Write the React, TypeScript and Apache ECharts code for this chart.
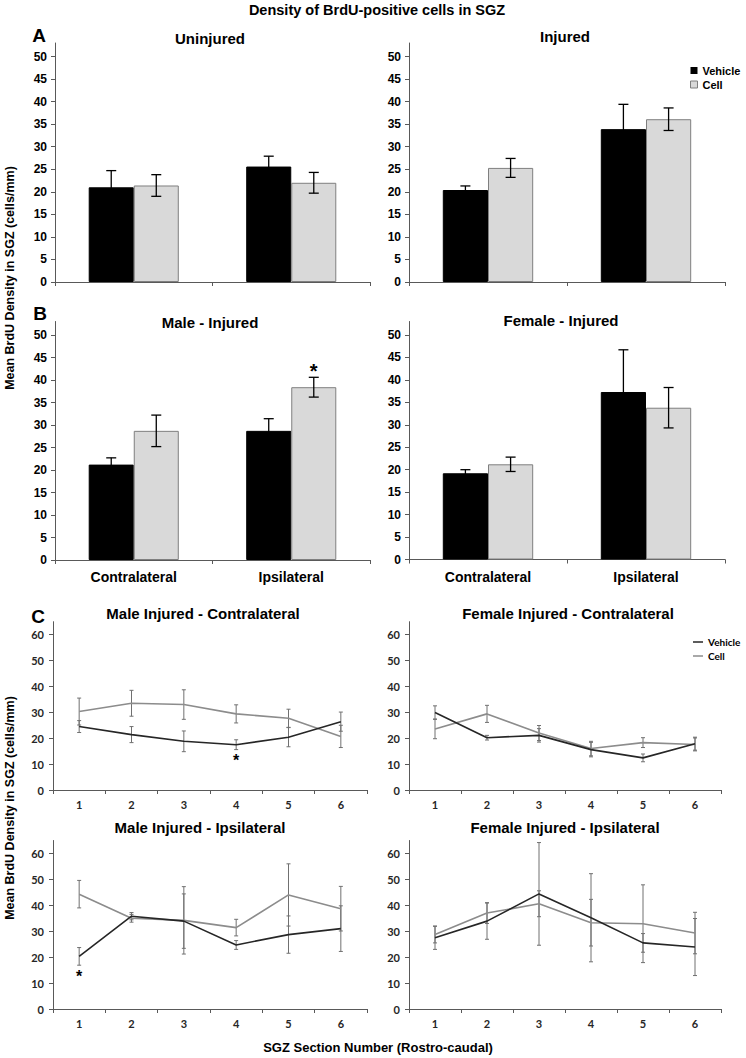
import React, { useEffect, useRef } from "react";
import * as echarts from "echarts";

// ---------- DATA ----------
const barCategories = ["Contralateral", "Ipsilateral"];
const barTickValues = [0, 5, 10, 15, 20, 25, 30, 35, 40, 45, 50];

const uninjuredVehicle = [21.0, 25.6];
const uninjuredVehicleErr = [3.7, 2.3];
const uninjuredCell = [21.4, 22.0];
const uninjuredCellErr = [2.4, 2.3];

const injuredVehicle = [20.4, 33.9];
const injuredVehicleErr = [0.9, 5.5];
const injuredCell = [25.3, 36.1];
const injuredCellErr = [2.1, 2.5];

const maleVehicle = [21.2, 28.7];
const maleVehicleErr = [1.5, 2.7];
const maleCell = [28.7, 38.4];
const maleCellErr = [3.5, 2.2];
const maleCellSig = [0, 1];

const femaleVehicle = [19.2, 37.3];
const femaleVehicleErr = [0.8, 9.4];
const femaleCell = [21.2, 33.8];
const femaleCellErr = [1.6, 4.5];

const sections = ["1", "2", "3", "4", "5", "6"];
const lineTickValues = [0, 10, 20, 30, 40, 50, 60];

const maleContraVehicle = [24.5, 21.4, 18.8, 17.5, 20.4, 26.4];
const maleContraVehicleErr = [2.3, 3.1, 4.0, 1.9, 3.7, 3.7];
const maleContraVehicleSig = [0, 0, 0, 1, 0, 0];
const maleContraCell = [30.3, 33.5, 33.0, 29.4, 27.7, 20.7];
const maleContraCellErr = [5.2, 5.0, 5.7, 3.5, 3.5, 4.3];

const femaleContraVehicle = [29.9, 20.2, 21.1, 15.6, 12.4, 17.9];
const femaleContraVehicleErr = [2.6, 0.9, 2.6, 2.8, 1.5, 2.5];
const femaleContraCell = [23.6, 29.4, 22.0, 16.0, 18.3, 17.6];
const femaleContraCellErr = [3.8, 3.3, 2.9, 2.8, 1.9, 2.5];

const maleIpsiVehicle = [20.3, 35.8, 33.9, 24.7, 28.7, 31.0];
const maleIpsiVehicleErr = [3.4, 1.4, 10.5, 1.7, 7.2, 8.8];
const maleIpsiVehicleSig = [1, 0, 0, 0, 0, 0];
const maleIpsiCell = [44.3, 35.0, 34.2, 31.4, 44.0, 38.7];
const maleIpsiCellErr = [5.3, 1.5, 13.0, 3.2, 12.0, 8.6];

const femaleIpsiVehicle = [27.5, 33.9, 44.4, 35.2, 25.5, 23.9];
const femaleIpsiVehicleErr = [4.5, 7.0, 19.8, 17.0, 3.6, 11.0];
const femaleIpsiCell = [28.7, 37.0, 40.6, 33.3, 32.9, 29.3];
const femaleIpsiCellErr = [3.2, 4.0, 5.0, 9.0, 15.0, 8.0];

// ---------- STYLE ----------
const ARIAL = "'Liberation Sans', Arial, sans-serif";
const CALIBRI = "Lato, 'Open Sans', sans-serif";
const AXIS_COLOR = "#595959";
const BAR_FRAC = 0.286;

const barPanels = [
  { title: "Uninjured", tx: 210, ty: 38, grid: { left: 55, top: 43, width: 315, height: 239 },
    v: uninjuredVehicle, ve: uninjuredVehicleErr, c: uninjuredCell, ce: uninjuredCellErr, sig: [0, 0], labels: false },
  { title: "Injured", tx: 565, ty: 36, grid: { left: 409, top: 43, width: 316, height: 239 },
    v: injuredVehicle, ve: injuredVehicleErr, c: injuredCell, ce: injuredCellErr, sig: [0, 0], labels: false },
  { title: "Male - Injured", tx: 210, ty: 322, grid: { left: 55, top: 321.5, width: 315, height: 238.5 },
    v: maleVehicle, ve: maleVehicleErr, c: maleCell, ce: maleCellErr, sig: maleCellSig, labels: true },
  { title: "Female - Injured", tx: 561, ty: 320, grid: { left: 409, top: 321.5, width: 316, height: 238 },
    v: femaleVehicle, ve: femaleVehicleErr, c: femaleCell, ce: femaleCellErr, sig: [0, 0], labels: true },
];

const linePanels = [
  { title: "Male Injured - Contralateral", tx: 203, ty: 613, grid: { left: 53, top: 621.7, width: 314, height: 168.3 },
    v: maleContraVehicle, ve: maleContraVehicleErr, vs: maleContraVehicleSig, c: maleContraCell, ce: maleContraCellErr },
  { title: "Female Injured - Contralateral", tx: 568, ty: 613, grid: { left: 409, top: 621.7, width: 312, height: 168.3 },
    v: femaleContraVehicle, ve: femaleContraVehicleErr, vs: [0, 0, 0, 0, 0, 0], c: femaleContraCell, ce: femaleContraCellErr },
  { title: "Male Injured - Ipsilateral", tx: 200, ty: 827, grid: { left: 53, top: 840.5, width: 314, height: 168.5 },
    v: maleIpsiVehicle, ve: maleIpsiVehicleErr, vs: maleIpsiVehicleSig, c: maleIpsiCell, ce: maleIpsiCellErr },
  { title: "Female Injured - Ipsilateral", tx: 565, ty: 827, grid: { left: 409, top: 840.5, width: 312, height: 168.5 },
    v: femaleIpsiVehicle, ve: femaleIpsiVehicleErr, vs: [0, 0, 0, 0, 0, 0], c: femaleIpsiCell, ce: femaleIpsiCellErr },
];

function barErrRender(params: any, api: any) {
  const cat = api.value(0);
  const val = api.value(1);
  const err = api.value(2);
  const side = api.value(3);
  const star = api.value(4);
  const band = api.size([1, 0])[0];
  const off = (side === 0 ? -1 : 1) * band * BAR_FRAC / 2;
  const top = api.coord([cat, val + err]);
  const bot = api.coord([cat, val - err]);
  const x = top[0] + off;
  const cap = 5;
  const st = { stroke: "#000", lineWidth: 1.3 };
  const children: any[] = [
    { type: "line", shape: { x1: x, y1: top[1], x2: x, y2: bot[1] }, style: st },
    { type: "line", shape: { x1: x - cap, y1: top[1], x2: x + cap, y2: top[1] }, style: st },
    { type: "line", shape: { x1: x - cap, y1: bot[1], x2: x + cap, y2: bot[1] }, style: st },
  ];
  if (star) {
    children.push({ type: "text", style: { text: "*", x, y: top[1] - 6, align: "center", verticalAlign: "middle",
      font: `bold 20px ${ARIAL}`, fill: "#000" } });
  }
  return { type: "group", children };
}

function lineErrRender(params: any, api: any) {
  const cat = api.value(0);
  const val = api.value(1);
  const err = api.value(2);
  const star = api.value(3);
  const top = api.coord([cat, val + err]);
  const bot = api.coord([cat, val - err]);
  const x = top[0];
  const cap = 2;
  const st = { stroke: "#707070", lineWidth: 1 };
  const children: any[] = [
    { type: "line", shape: { x1: x, y1: top[1], x2: x, y2: bot[1] }, style: st },
    { type: "line", shape: { x1: x - cap, y1: top[1], x2: x + cap, y2: top[1] }, style: st },
    { type: "line", shape: { x1: x - cap, y1: bot[1], x2: x + cap, y2: bot[1] }, style: st },
  ];
  if (star) {
    children.push({ type: "text", style: { text: "*", x, y: bot[1] + 11, align: "center", verticalAlign: "middle",
      font: `bold 16px ${ARIAL}`, fill: "#000" } });
  }
  return { type: "group", children };
}

function buildOption() {
  const grid: any[] = [];
  const xAxis: any[] = [];
  const yAxis: any[] = [];
  const series: any[] = [];
  const graphic: any[] = [];

  barPanels.forEach((p, i) => {
    grid.push({ ...p.grid, containLabel: false });
    xAxis.push({
      type: "category", gridIndex: i, data: barCategories, boundaryGap: true,
      axisLine: { lineStyle: { color: AXIS_COLOR, width: 1 } },
      axisTick: { show: true, length: 4, lineStyle: { color: AXIS_COLOR } },
      axisLabel: { show: p.labels, margin: 10, fontFamily: ARIAL, fontWeight: "bold", fontSize: 14, color: "#000" },
    });
    yAxis.push({
      type: "value", gridIndex: i, min: 0, max: 53,
      axisLine: { show: true, lineStyle: { color: AXIS_COLOR, width: 1 } },
      axisTick: { show: true, length: 4, customValues: barTickValues, lineStyle: { color: AXIS_COLOR } },
      axisLabel: { customValues: barTickValues, margin: 8, fontFamily: ARIAL, fontWeight: "bold", fontSize: 12, color: "#000" },
      splitLine: { show: false },
    });
    series.push({
      type: "bar", name: "Vehicle", xAxisIndex: i, yAxisIndex: i, data: p.v,
      barWidth: (BAR_FRAC * 100).toFixed(1) + "%", barGap: "0%",
      itemStyle: { color: "#000", borderColor: "#000", borderWidth: 1 },
    });
    series.push({
      type: "bar", name: "Cell", xAxisIndex: i, yAxisIndex: i, data: p.c,
      barWidth: (BAR_FRAC * 100).toFixed(1) + "%", barGap: "0%",
      itemStyle: { color: "#d9d9d9", borderColor: "#7f7f7f", borderWidth: 1 },
    });
    const errData: any[] = [];
    p.v.forEach((val, k) => errData.push([k, val, p.ve[k], 0, 0]));
    p.c.forEach((val, k) => errData.push([k, val, p.ce[k], 1, p.sig[k]]));
    series.push({
      type: "custom", name: "err", xAxisIndex: i, yAxisIndex: i, data: errData,
      encode: { x: 0, y: 1 }, renderItem: barErrRender, z: 5, silent: true,
    });
    graphic.push({ type: "text", x: p.tx, y: p.ty, style: { text: p.title, align: "center", verticalAlign: "middle",
      font: `bold 15px ${ARIAL}`, fill: "#000" } });
  });

  linePanels.forEach((p, j) => {
    const i = j + barPanels.length;
    grid.push({ ...p.grid, containLabel: false });
    xAxis.push({
      type: "category", gridIndex: i, data: sections, boundaryGap: true,
      axisLine: { lineStyle: { color: AXIS_COLOR, width: 1 } },
      axisTick: { show: true, length: 4, lineStyle: { color: AXIS_COLOR } },
      axisLabel: { margin: 9, fontFamily: CALIBRI, fontWeight: "bold", fontSize: 11, color: "#262626" },
    });
    yAxis.push({
      type: "value", gridIndex: i, min: 0, max: 65,
      axisLine: { show: true, lineStyle: { color: AXIS_COLOR, width: 1 } },
      axisTick: { show: true, length: 4, customValues: lineTickValues, lineStyle: { color: AXIS_COLOR } },
      axisLabel: { customValues: lineTickValues, margin: 9, fontFamily: CALIBRI, fontWeight: "bold", fontSize: 11, color: "#262626" },
      splitLine: { show: false },
    });
    series.push({
      type: "custom", name: "err", xAxisIndex: i, yAxisIndex: i,
      data: p.c.map((val, k) => [k, val, p.ce[k], 0]),
      encode: { x: 0, y: 1 }, renderItem: lineErrRender, z: 1, silent: true,
    });
    series.push({
      type: "custom", name: "err", xAxisIndex: i, yAxisIndex: i,
      data: p.v.map((val, k) => [k, val, p.ve[k], p.vs[k]]),
      encode: { x: 0, y: 1 }, renderItem: lineErrRender, z: 1, silent: true,
    });
    series.push({
      type: "line", name: "Cell", xAxisIndex: i, yAxisIndex: i, data: p.c,
      symbol: "none", lineStyle: { color: "#8c8c8c", width: 1.6 }, itemStyle: { color: "#8c8c8c" }, z: 3,
    });
    series.push({
      type: "line", name: "Vehicle", xAxisIndex: i, yAxisIndex: i, data: p.v,
      symbol: "none", lineStyle: { color: "#262626", width: 1.6 }, itemStyle: { color: "#262626" }, z: 4,
    });
    graphic.push({ type: "text", x: p.tx, y: p.ty, style: { text: p.title, align: "center", verticalAlign: "middle",
      font: `bold 15px ${ARIAL}`, fill: "#000" } });
  });

  // headings
  graphic.push({ type: "text", x: 377, y: 10, style: { text: "Density of BrdU-positive cells in SGZ", align: "center",
    verticalAlign: "middle", font: `bold 14.5px ${ARIAL}`, fill: "#000" } });
  graphic.push({ type: "text", x: 39, y: 35, style: { text: "A", align: "center", verticalAlign: "middle",
    font: `bold 19px ${ARIAL}`, fill: "#000" } });
  graphic.push({ type: "text", x: 40, y: 313, style: { text: "B", align: "center", verticalAlign: "middle",
    font: `bold 19px ${ARIAL}`, fill: "#000" } });
  graphic.push({ type: "text", x: 38, y: 616, style: { text: "C", align: "center", verticalAlign: "middle",
    font: `bold 19px ${ARIAL}`, fill: "#000" } });
  graphic.push({ type: "text", x: 10, y: 278, rotation: Math.PI / 2, style: { text: "Mean BrdU Density in SGZ (cells/mm)",
    align: "center", verticalAlign: "middle", font: `bold 12.5px ${ARIAL}`, fill: "#000" } });
  graphic.push({ type: "text", x: 10, y: 808, rotation: Math.PI / 2, style: { text: "Mean BrdU Density in SGZ (cells/mm)",
    align: "center", verticalAlign: "middle", font: `bold 12.5px ${ARIAL}`, fill: "#000" } });
  graphic.push({ type: "text", x: 378, y: 1047, style: { text: "SGZ Section Number (Rostro-caudal)", align: "center",
    verticalAlign: "middle", font: `bold 13px ${ARIAL}`, fill: "#000" } });

  const legend = [
    {
      orient: "vertical", left: 690, top: 65, itemWidth: 7, itemHeight: 7, itemGap: 3, padding: 0,
      selectedMode: false,
      textStyle: { fontFamily: ARIAL, fontWeight: "bold", fontSize: 11, color: "#000" },
      data: [
        { name: "Vehicle", icon: "rect", itemStyle: { color: "#000", borderColor: "#000", borderWidth: 0 } },
        { name: "Cell", icon: "rect", itemStyle: { color: "#d9d9d9", borderColor: "#7f7f7f", borderWidth: 1 } },
      ],
    },
    {
      orient: "vertical", left: 693, top: 637, itemWidth: 10, itemHeight: 1.5, itemGap: 4, padding: 0,
      selectedMode: false,
      textStyle: { fontFamily: CALIBRI, fontWeight: "bold", fontSize: 10, color: "#000" },
      data: [
        { name: "Vehicle", icon: "rect", itemStyle: { color: "#262626", borderWidth: 0 } },
        { name: "Cell", icon: "rect", itemStyle: { color: "#8c8c8c", borderWidth: 0 } },
      ],
    },
  ];

  return {
    animation: false,
    backgroundColor: "#ffffff",
    grid, xAxis, yAxis, series, graphic, legend,
    tooltip: { show: false },
  };
}

export default function App() {
  const ref = useRef<HTMLDivElement>(null);
  useEffect(() => {
    document.body.style.margin = "0";
    if (!ref.current) return;
    const chart = echarts.init(ref.current, undefined, { renderer: "svg" });
    chart.setOption(buildOption() as any);
    return () => chart.dispose();
  }, []);
  return <div ref={ref} style={{ width: 746, height: 1058, background: "#fff" }} />;
}
